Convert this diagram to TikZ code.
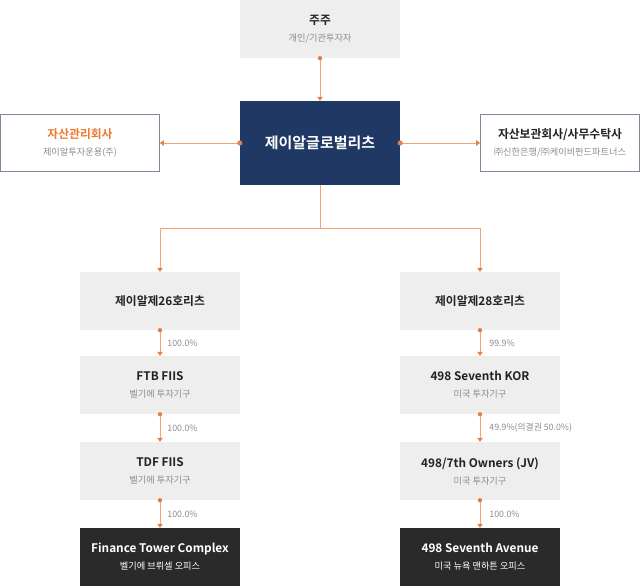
\documentclass[tikz,border=0pt]{standalone}
\usepackage{fontspec}
\setmainfont{Noto Sans CJK KR}[BoldFont={Noto Sans CJK KR Bold}]
\usetikzlibrary{arrows.meta}
\definecolor{navy}{HTML}{1F3864}
\definecolor{boxgray}{HTML}{EEEEEE}
\definecolor{darkbox}{HTML}{2A2A2A}
\definecolor{orng}{HTML}{EE7A30}
\definecolor{lineor}{HTML}{F2A477}
\definecolor{dotor}{HTML}{E0804A}
\definecolor{subgray}{HTML}{8C8C8C}
\definecolor{titleblk}{HTML}{222222}
\definecolor{bordergray}{HTML}{7F8A99}
\newcommand{\ttl}[1]{{\bfseries\fontsize{11.8}{17}\selectfont #1}}
\newcommand{\sbt}[1]{{\fontsize{9.2}{17}\selectfont #1}}
\begin{document}
\begin{tikzpicture}[x=1pt,y=-1pt,
  base/.style={rectangle, minimum width=160pt, minimum height=58pt, inner sep=0pt, align=center, font=\fontsize{9}{17}\selectfont, text=titleblk},
  graybox/.style={base, fill=boxgray},
  darkbox/.style={base, fill=darkbox, text=white},
  whitebox/.style={base, fill=white, draw=bordergray, line width=0.8pt},
  navybox/.style={base, fill=navy, text=white, minimum height=84pt},
  conn/.style={draw=lineor, line width=0.8pt, -{Triangle[width=5.5pt,length=4pt,color=dotor]}},
  plain/.style={draw=lineor, line width=0.8pt},
  dot/.style={fill=dotor},
  pct/.style={font=\fontsize{8.8}{10}\selectfont, text=subgray, anchor=west, inner sep=0pt}
]
\useasboundingbox (0,0) rectangle (640,586);

\node[graybox] (sh) at (320,29) {\ttl{주주}\\\sbt{\color{subgray}개인/기관투자자}};
\node[navybox] (reit) at (320,143) {{\bfseries\fontsize{15}{17}\selectfont 제이알글로벌리츠}};
\node[whitebox, minimum width=159pt, minimum height=57pt] (amc) at (80,143) {\ttl{\color{orng}자산관리회사}\\\sbt{\color{subgray}제이알투자운용(주)}};
\node[whitebox, minimum width=159pt, minimum height=57pt] (cust) at (560,143) {\ttl{자산보관회사/사무수탁사}\\\sbt{\color{subgray}㈜신한은행/㈜케이비펀드파트너스}};

\node[graybox] (l1) at (160,301) {\ttl{제이알제26호리츠}};
\node[graybox] (l2) at (160,385) {\ttl{FTB FIIS}\\\sbt{\color{subgray}벨기에 투자기구}};
\node[graybox] (l3) at (160,471) {\ttl{TDF FIIS}\\\sbt{\color{subgray}벨기에 투자기구}};
\node[darkbox] (l4) at (160,557) {\ttl{Finance Tower Complex}\\\sbt{벨기에 브뤼셀 오피스}};

\node[graybox] (r1) at (480,301) {\ttl{제이알제28호리츠}};
\node[graybox] (r2) at (480,385) {\ttl{498 Seventh KOR}\\\sbt{\color{subgray}미국 투자기구}};
\node[graybox] (r3) at (480,471) {\ttl{498/7th Owners (JV)}\\\sbt{\color{subgray}미국 투자기구}};
\node[darkbox] (r4) at (480,557) {\ttl{498 Seventh Avenue}\\\sbt{미국 뉴욕 맨하튼 오피스}};

% top connectors
\draw[conn] (sh.south) -- (reit.north);
\fill[dot] (sh.south) circle (2.2pt);
\draw[conn] (reit.west) -- (amc.east);
\fill[dot] (reit.west) circle (2.6pt);
\draw[conn] (reit.east) -- (cust.west);
\fill[dot] (reit.east) circle (2.6pt);

% branch
\coordinate (split) at (320,228);
\draw[plain] (reit.south) -- (split);
\draw[conn] (split) -| (l1.north);
\draw[conn] (split) -| (r1.north);

% left chain
\draw[conn] (l1.south) -- node[pct, xshift=7pt] {100.0\%} (l2.north);
\fill[dot] (l1.south) circle (2.2pt);
\draw[conn] (l2.south) -- node[pct, xshift=7pt] {100.0\%} (l3.north);
\fill[dot] (l2.south) circle (2.2pt);
\draw[conn] (l3.south) -- node[pct, xshift=7pt] {100.0\%} (l4.north);
\fill[dot] (l3.south) circle (2.2pt);

% right chain
\draw[conn] (r1.south) -- node[pct, xshift=9pt] {99.9\%} (r2.north);
\fill[dot] (r1.south) circle (2.2pt);
\draw[conn] (r2.south) -- node[pct, xshift=9pt] {49.9\%(의결권 50.0\%)} (r3.north);
\fill[dot] (r2.south) circle (2.2pt);
\draw[conn] (r3.south) -- node[pct, xshift=9pt] {100.0\%} (r4.north);
\fill[dot] (r3.south) circle (2.2pt);
\end{tikzpicture}
\end{document}
